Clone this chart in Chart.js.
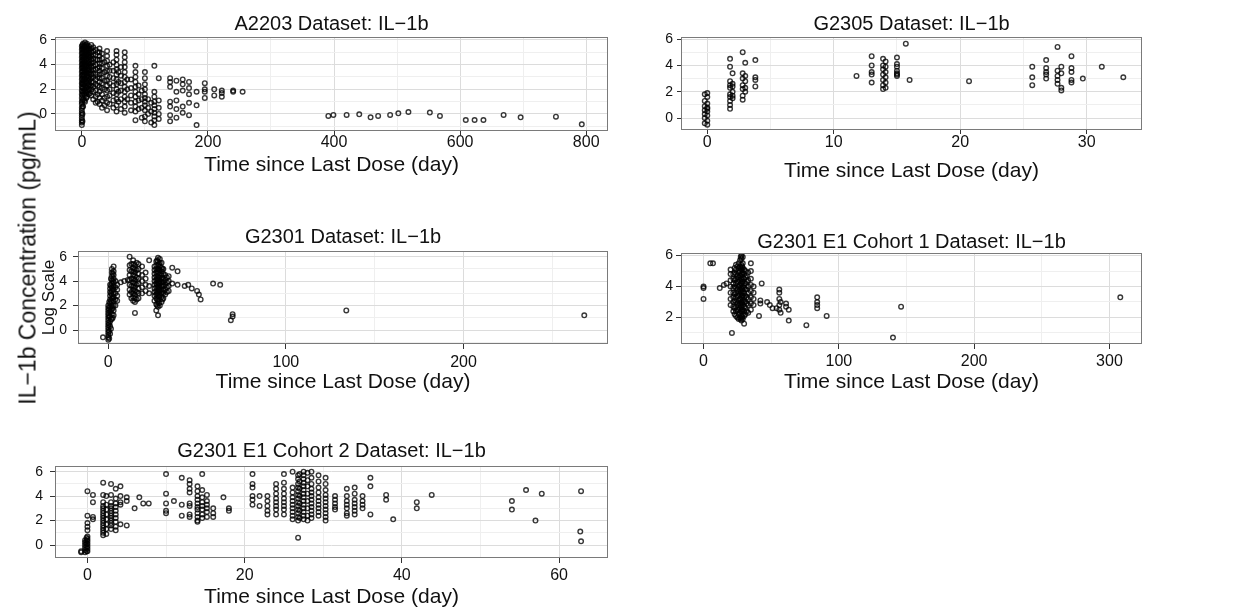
<!DOCTYPE html>
<html>
<head>
<meta charset="utf-8">
<script src="https://cdn.jsdelivr.net/npm/chart.js@4.4.1/dist/chart.umd.min.js"></script>
<style>
  body { margin: 0; background: #fff; }
  #wrap { position: relative; width: 1246px; height: 609px; overflow: hidden; }
  #wrap canvas { position: absolute; left: 0; top: 0; }
  #ylab {
    position: absolute; left: 28px; top: 258px;
    transform: translate(-50%, -50%) rotate(-90deg);
    white-space: nowrap; line-height: 1;
    font: 23px "Liberation Sans", Arial, sans-serif; color: #111;
  }
</style>
</head>
<body>
<div id="wrap">
  <canvas id="p1" width="1246" height="609"></canvas>
  <canvas id="p2" width="1246" height="609"></canvas>
  <canvas id="p3" width="1246" height="609"></canvas>
  <canvas id="p4" width="1246" height="609"></canvas>
  <canvas id="p5" width="1246" height="609"></canvas>
  <div id="ylab">IL−1b Concentration (pg/mL)</div>
</div>
<script>
'use strict';

// ─── Data: one entry per visit day, each with the log-concentrations seen there ───

// A2203
const a2203Days = [0, 2, 5, 8, 11, 15, 18, 22, 28, 32, 40, 44, 55, 58, 68, 72, 85, 90, 100, 105,
  115, 122, 140, 150, 160, 170, 182, 195, 210, 222, 240, 255,
  391, 399, 420, 440, 458, 470, 489, 502, 518, 552, 568, 609, 623, 637, 669, 696, 752, 793,
  1, 4, 7, 10, 13, 25, 36, 50, 62, 78, 95, 110];
const a2203Conc = [
  [-0.9, -0.7, -0.5, -0.3, -0.1, 0.1, 0.3, 0.5, 0.8, 1.0, 1.3, 1.6, 1.9, 2.2, 2.5, 2.8, 3.1, 3.4, 3.7, 4.0, 4.3, 4.6, 4.9, 5.2, 5.5],
  [0.6, 1.2, 1.7, 2.1, 2.4, 2.7, 3.0, 3.2, 3.5, 3.7, 3.9, 4.1, 4.3, 4.5, 4.7, 4.9, 5.1, 5.3, 5.5, 5.7],
  [1.0, 1.5, 1.9, 2.3, 2.6, 2.9, 3.2, 3.4, 3.6, 3.8, 4.0, 4.2, 4.4, 4.6, 4.8, 5.0, 5.2, 5.4, 5.6, 5.8],
  [1.4, 1.8, 2.2, 2.5, 2.8, 3.1, 3.3, 3.5, 3.8, 4.0, 4.3, 4.5, 4.7, 4.9, 5.1, 5.3, 5.5, 5.7],
  [1.6, 2.0, 2.4, 2.7, 3.0, 3.3, 3.6, 3.9, 4.2, 4.4, 4.6, 4.8, 5.0, 5.2, 5.5],
  [1.5, 2.0, 2.3, 2.6, 2.9, 3.2, 3.5, 3.8, 4.1, 4.4, 4.7, 5.0, 5.3, 5.6],
  [1.2, 1.8, 2.2, 2.6, 3.0, 3.3, 3.6, 3.9, 4.2, 4.5, 4.8, 5.1, 5.4],
  [0.9, 1.4, 1.9, 2.4, 2.8, 3.2, 3.6, 4.0, 4.4, 4.8, 5.2],
  [0.8, 1.3, 1.8, 2.2, 2.6, 2.9, 3.2, 3.5, 3.8, 4.1, 4.4, 4.7, 5.0, 5.3],
  [0.5, 1.1, 1.6, 2.1, 2.5, 2.9, 3.3, 3.7, 4.1, 4.5, 4.9],
  [0.3, 0.9, 1.4, 1.9, 2.3, 2.7, 3.1, 3.5, 3.9, 4.3, 4.7, 5.1],
  [0.8, 1.5, 2.0, 2.5, 3.0, 3.5, 4.0],
  [0.2, 0.7, 1.2, 1.6, 2.0, 2.4, 2.8, 3.2, 3.6, 4.0, 4.4, 4.8, 5.1],
  [1.0, 1.8, 2.6, 3.4],
  [0.1, 0.6, 1.0, 1.4, 1.8, 2.2, 2.6, 3.0, 3.4, 3.8, 4.2, 4.6, 5.0],
  [1.2, 2.0, 2.8],
  [-0.5, 0.2, 0.6, 1.0, 1.4, 1.8, 2.2, 2.6, 3.0, 3.4, 3.9],
  [0.4, 1.1, 1.6, 2.3],
  [-0.6, -0.2, 0.3, 0.7, 1.0, 1.3, 1.6, 2.0, 2.4, 2.9, 3.4],
  [0.0, 0.5, 1.2],
  [-0.9, -0.5, -0.2, 0.1, 0.4, 0.7, 1.0, 1.4, 1.8, 3.9],
  [-0.4, 0.0, 0.5, 1.1, 2.9],
  [-0.6, -0.1, 0.6, 1.0, 2.2, 2.6, 2.9],
  [-0.3, 0.4, 1.1, 1.8, 2.7],
  [0.1, 0.6, 1.9, 2.4, 2.8],
  [-0.1, 0.9, 1.6, 2.1, 2.6],
  [-0.9, 0.7, 1.8],
  [1.3, 1.8, 2.0, 2.5],
  [1.5, 2.0],
  [1.4, 1.7, 1.9],
  [1.8, 1.9],
  [1.8],
  [-0.16], [-0.08], [-0.08], [-0.03], [-0.27], [-0.16], [-0.08], [0.05], [0.16],
  [0.11], [-0.16], [-0.49], [-0.49], [-0.49], [-0.08], [-0.27], [-0.22], [-0.84],
  [-0.6, 0.0, 0.6, 1.1, 1.5, 1.8, 2.1, 2.4, 2.6, 2.9, 3.2, 3.5, 3.8, 4.1, 4.4, 4.7, 5.0, 5.3, 5.6],
  [1.1, 1.6, 2.0, 2.4, 2.8, 3.1, 3.5, 3.9, 4.3, 4.7, 5.1, 5.5],
  [1.3, 1.7, 2.1, 2.6, 3.0, 3.4, 3.9, 4.4, 4.8, 5.2, 5.6],
  [1.9, 2.3, 2.9, 3.5, 4.1, 4.7, 5.3],
  [1.7, 2.2, 2.8, 3.4, 4.0, 4.6, 5.2],
  [1.0, 1.6, 2.3, 3.0, 3.7, 4.4, 5.0],
  [0.7, 1.3, 2.0, 2.7, 3.4, 4.2],
  [0.5, 1.1, 1.7, 2.3, 2.9, 3.5, 4.2],
  [0.4, 1.2, 1.9, 2.5, 3.1, 3.8],
  [0.3, 0.9, 1.5, 2.1, 2.8],
  [-0.3, 0.5, 1.2, 1.9],
  [-0.7, 0.2, 0.9]
];

// G2305
const g2305Days = [-0.2, 0, 1.8, 2.0, 2.8, 3.0, 3.8, 11.8, 13.0, 13.9, 14.1, 15.0, 15.7, 16.0,
  20.7, 25.7, 26.8, 27.7, 28.0, 28.8, 29.7, 31.2, 32.9];
const g2305Conc = [
  [1.8, 1.3, 0.9, 0.6, 0.3, 0.0, -0.4],
  [1.9, 1.6, 1.1, 0.8, 0.7, 0.5, 0.2, -0.2, -0.5],
  [4.5, 3.9, 2.8, 2.5, 2.3, 1.8, 1.6, 1.3, 1.0, 0.7],
  [3.4, 2.6, 2.4, 2.0, 1.7, 1.5],
  [5.0, 3.4, 3.0, 2.5, 2.2, 1.7, 1.4],
  [4.2, 3.2, 2.8, 2.3, 2.0],
  [4.4, 3.1, 2.9, 2.4],
  [3.2],
  [4.7, 4.0, 3.5, 3.3, 2.7],
  [4.5, 4.0, 3.7, 3.3, 2.9, 2.5, 2.2],
  [4.3, 3.9, 3.5, 3.1, 2.7, 2.3],
  [4.6, 4.1, 3.9, 3.6, 3.4, 3.3, 3.2],
  [5.65],
  [2.9],
  [2.8],
  [3.9, 3.1, 2.5],
  [4.4, 3.8, 3.5, 3.3, 3.0],
  [5.4, 3.6, 3.2, 2.9, 2.6],
  [3.9, 3.4, 2.3, 2.1],
  [4.7, 3.8, 3.5, 2.9, 2.7],
  [3.0],
  [3.9],
  [3.1]
];

// G2301
const g2301Days = [-3, 0, 1, 2, 3, 4, 5, 7, 9, 11, 12, 14, 15, 17, 19, 21, 23, 26, 27, 28, 29, 30,
  31, 32, 34, 36, 39, 43, 45, 47, 50, 51, 52, 59, 63, 69, 70, 134, 268,
  0.5, 1.5, 2.5, 13, 16, 27.5, 28.5, 30.5, 33];
const g2301Conc = [
  [-0.6],
  [-0.8, -0.6, -0.4, -0.2, 0, 0.2, 0.4, 0.6, 0.8, 1.0, 1.2, 1.4, 1.6, 1.8, 2.0],
  [-0.3, 0.3, 0.7, 1.1, 1.5, 1.9, 2.2, 2.5, 2.8, 3.1, 3.4, 3.7],
  [0.9, 1.3, 1.7, 2.0, 2.3, 2.6, 2.9, 3.2, 3.5, 3.8, 4.1, 4.4, 4.7, 5.0],
  [1.2, 1.6, 2.0, 2.4, 2.7, 3.0, 3.3, 3.6, 3.9, 4.2, 4.5, 4.8, 5.2],
  [2.0, 2.5, 3.0, 3.5, 4.0],
  [2.4, 2.8, 3.3, 3.7],
  [3.9],
  [4.0],
  [4.1],
  [2.9, 3.3, 3.7, 4.1, 4.5, 4.9, 5.3, 6.0],
  [2.4, 2.7, 3.0, 3.3, 3.6, 3.9, 4.2, 4.5, 4.8, 5.1, 5.4, 5.7],
  [1.4, 2.3, 2.6, 2.9, 3.2, 3.5, 3.8, 4.1, 4.4, 4.7, 5.0, 5.3],
  [2.6, 3.0, 3.4, 3.8, 4.2, 4.6, 5.0, 5.4],
  [3.0, 3.5, 4.0, 4.5, 5.2],
  [3.2, 3.7, 4.2, 4.7],
  [3.0, 3.6, 5.7],
  [2.4, 2.8, 3.1, 3.4, 3.7, 4.0, 4.3, 4.6, 4.9, 5.2],
  [1.6, 2.1, 2.6, 2.9, 3.2, 3.5, 3.8, 4.1, 4.4, 4.7, 5.0, 5.3, 5.6],
  [1.2, 1.9, 2.4, 2.8, 3.1, 3.4, 3.6, 3.9, 4.1, 4.4, 4.7, 5.0, 5.3, 5.6, 5.9],
  [2.0, 2.5, 2.9, 3.2, 3.5, 3.8, 4.0, 4.3, 4.6, 4.9, 5.2, 5.5, 5.8],
  [2.3, 2.7, 3.0, 3.3, 3.6, 3.9, 4.2, 4.5, 4.8, 5.1, 5.5],
  [2.6, 3.0, 3.3, 3.6, 3.9, 4.2, 4.6, 5.0],
  [2.9, 3.3, 3.7, 4.1, 4.5],
  [3.2, 3.6, 4.0, 4.4],
  [5.1, 3.8],
  [4.8, 3.7],
  [3.6],
  [3.7],
  [3.4],
  [3.2],
  [2.9],
  [2.5],
  [3.8],
  [3.7],
  [0.8],
  [1.1, 1.3],
  [1.6],
  [1.2],
  [-0.7, -0.1, 0.5, 1.1, 1.7, 2.3],
  [0.1, 0.9, 1.6, 2.4, 3.0, 3.6, 4.2],
  [1.0, 1.8, 2.6, 3.4, 4.0, 4.6],
  [2.6, 3.1, 3.6, 4.2, 4.8, 5.4],
  [2.5, 3.1, 3.7, 4.3, 4.9, 5.5],
  [2.0, 2.5, 3.0, 3.7, 4.2, 4.8, 5.7],
  [2.2, 2.7, 3.3, 3.8, 4.3, 4.9, 5.4],
  [2.5, 3.1, 3.7, 4.3, 5.0],
  [3.1, 3.5, 3.9, 4.3]
];

// G2301 E1 Cohort 1
const cohort1Days = [0, 5, 7, 12, 15, 17, 20, 21, 22, 24, 26, 27, 28, 29, 30, 31, 33, 35, 37,
  41, 42, 43, 47, 49, 51, 54, 56, 57, 61, 63, 76, 84, 91, 140, 146, 308,
  23, 25, 27.5, 28.5, 32];
const cohort1Conc = [
  [4.0, 3.9, 3.2],
  [5.5],
  [5.5],
  [3.9],
  [4.1],
  [4.2],
  [2.8, 3.2, 3.6, 4.0, 4.4, 4.8, 5.1],
  [1.0],
  [2.4, 2.7, 3.0, 3.3, 3.6, 3.9, 4.2, 4.5, 4.8],
  [2.1, 2.4, 2.7, 3.0, 3.3, 3.6, 3.9, 4.2, 4.5, 4.8, 5.1, 5.4],
  [1.9, 2.2, 2.5, 2.8, 3.1, 3.4, 3.7, 4.0, 4.3, 4.6, 4.9, 5.2, 5.5],
  [2.0, 2.3, 2.6, 2.9, 3.2, 3.5, 3.8, 4.1, 4.4, 4.7, 5.0, 5.3, 5.7],
  [1.8, 2.1, 2.4, 2.7, 3.0, 3.3, 3.6, 3.9, 4.2, 4.5, 4.8, 5.1, 5.4, 5.8, 6.0],
  [1.9, 2.2, 2.5, 2.8, 3.1, 3.4, 3.7, 4.0, 4.3, 4.6, 4.9, 5.2, 5.5, 5.9],
  [1.6, 2.1, 2.4, 2.7, 3.0, 3.3, 3.6, 3.9, 4.2, 4.5, 4.8, 5.1],
  [2.2, 2.6, 3.0, 3.4, 3.8, 4.2, 4.6, 5.0],
  [2.3, 2.8, 3.2, 3.6, 4.0, 4.4, 4.9],
  [2.5, 2.9, 3.3, 3.7, 4.1, 4.5, 5.0, 5.5],
  [2.8, 3.2, 3.6, 4.0],
  [2.1],
  [3.1, 2.9],
  [4.2],
  [3.0],
  [2.8],
  [2.6],
  [2.6],
  [3.8, 3.6, 3.2, 2.8, 2.5],
  [3.0, 2.3],
  [2.9, 2.7],
  [2.5, 1.8],
  [1.5],
  [3.3, 3.0, 2.8, 2.6],
  [2.1],
  [0.7],
  [2.7],
  [3.3],
  [2.2, 2.6, 3.1, 3.5, 4.0, 4.4, 4.9, 5.2],
  [2.0, 2.5, 2.9, 3.4, 3.8, 4.3, 4.7, 5.3],
  [1.9, 2.4, 2.8, 3.2, 3.7, 4.2, 4.7, 5.2, 5.9],
  [2.0, 2.5, 2.9, 3.4, 3.8, 4.3, 4.8, 5.3],
  [2.4, 2.9, 3.3, 3.8, 4.3, 4.7]
];

// G2301 E1 Cohort 2
const cohort2Days = [-0.8, -0.3, 0, 0.7, 2, 3, 3.6, 4.2, 5, 6, 6.6, 7.1, 7.8, 10, 11, 12, 13, 14,
  14.6, 15.2, 16, 17.3, 18, 21, 21.9, 22.9, 24, 25, 26.1, 26.8, 27.5, 28.5, 29.4, 30.3, 31.5,
  33, 34, 35, 36, 38, 38.9, 41.9, 43.8, 54, 55.8, 57, 57.8, 62.7, 62.8,
  -0.1, 2.4, 27.0, 28.0];
const cohort2Conc = [
  [-0.6, -0.5],
  [-0.6, -0.4, -0.2, 0.0, 0.2, 0.4],
  [-0.5, -0.3, -0.1, 0.1, 0.3, 0.5, 0.7, 1.2, 1.5, 1.8, 2.4, 4.4],
  [4.1, 3.5, 2.3, 2.1],
  [5.1, 4.1, 3.5, 3.2, 3.0, 2.8, 2.6, 2.4, 2.2, 2.0, 1.8, 1.6, 1.4, 1.2, 1.0, 0.8],
  [5.0, 4.1, 3.5, 3.2, 3.0, 2.8, 2.6, 2.4, 2.2, 2.0, 1.8, 1.6, 1.3],
  [4.6, 3.8, 3.4, 3.1, 2.8, 2.5, 2.2, 1.9, 1.5, 1.2],
  [4.8, 4.0, 3.5, 3.3, 1.7],
  [3.9, 3.6, 1.6],
  [3.0],
  [3.9],
  [3.4],
  [3.4],
  [5.8, 4.2, 3.4, 2.8, 2.6],
  [3.6],
  [5.5, 3.3, 2.4],
  [5.3, 5.0, 4.6, 4.3, 3.4, 3.2, 2.5, 2.3],
  [4.8, 4.4, 4.0, 3.7, 3.4, 3.1, 2.9, 2.6, 2.3, 2.0, 1.9],
  [5.8, 4.5, 3.9, 3.5, 3.2, 2.9, 2.5, 2.2],
  [4.1, 3.6, 3.3, 3.0, 2.7, 2.3],
  [3.0, 2.6, 2.3],
  [3.9],
  [3.0, 2.8],
  [5.8, 5.0, 4.7, 4.0, 3.7, 3.3],
  [4.0, 3.2],
  [4.0, 3.6, 3.2, 2.8, 2.5],
  [5.0, 4.6, 4.2, 3.8, 3.5, 3.2, 2.9, 2.5],
  [5.8, 5.1, 4.6, 4.2, 3.8, 3.5, 3.2, 2.9, 2.5],
  [6.0, 4.7, 4.3, 3.9, 3.6, 3.3, 3.0, 2.7, 2.4, 2.1],
  [5.7, 5.4, 5.0, 4.7, 4.4, 4.1, 3.8, 3.5, 3.2, 2.9, 2.6, 2.3, 2.0, 0.6],
  [6.0, 5.7, 5.4, 5.1, 4.8, 4.5, 4.2, 3.9, 3.6, 3.3, 3.0, 2.7, 2.4, 2.1],
  [6.0, 5.5, 5.0, 4.6, 4.3, 4.0, 3.7, 3.4, 3.1, 2.8, 2.5, 2.2],
  [5.7, 5.2, 4.7, 4.3, 3.9, 3.6, 3.3, 3.0, 2.7, 2.4],
  [5.5, 5.0, 4.5, 4.1, 3.8, 3.5, 3.2, 2.9, 2.6, 2.3, 2.0],
  [4.0, 3.7, 3.4, 3.1, 2.9],
  [4.6, 4.0, 3.6, 3.3, 3.0, 2.6, 2.4],
  [4.7, 4.2, 3.7, 3.4, 3.1, 2.8, 2.5],
  [4.0, 3.6, 3.3, 3.0],
  [5.5, 4.8, 2.5],
  [4.1, 3.7],
  [2.1],
  [3.5, 3.0],
  [4.1],
  [3.6, 2.9],
  [4.5],
  [2.0],
  [4.2],
  [1.1],
  [4.4, 0.3],
  [-0.5, -0.2, 0.1, 0.4, 0.6],
  [4.0, 3.3, 2.9, 2.5, 2.1, 1.7, 1.3, 0.9],
  [5.8, 5.2, 4.6, 4.0, 3.4, 2.8, 2.2],
  [5.9, 5.3, 4.8, 4.2, 3.6, 3.0, 2.4, 2.0]
];

// Axis breaks (major = labelled, minor = light grid only)
const yMajor = [0, 2, 4, 6];
const yMinor = [-1, 1, 3, 5];

// ─── Layout of the five panels (page pixels) ───
const FONT = '"Liberation Sans", Arial, sans-serif';
const PAGE_W = 1246, PAGE_H = 609;
const Y_AXIS_W = 40;
const TITLE_SIZE = 20, XTITLE_SIZE = 21, XTICK_SIZE = 16, YTICK_SIZE = 14;

const PANELS = [
  { id: 'p1', title: 'A2203 Dataset: IL−1b', days: a2203Days, conc: a2203Conc,
    area: [56, 38, 607, 130], xRange: [-41, 833], yRange: [-1.3, 6.16],
    xMajor: [0, 200, 400, 600, 800], xMinor: [100, 300, 500, 700],
    titleY: 24, xTitleY: 165, tickLen: 5, xPad: 0, yPad: 4 },
  { id: 'p2', title: 'G2305 Dataset: IL−1b', days: g2305Days, conc: g2305Conc,
    area: [682, 38, 1141, 129], xRange: [-2.0, 34.3], yRange: [-0.83, 6.08],
    xMajor: [0, 10, 20, 30], xMinor: [5, 15, 25],
    titleY: 24, xTitleY: 171, tickLen: 5, xPad: 0.5, yPad: 4 },
  { id: 'p3', title: 'G2301 Dataset: IL−1b', days: g2301Days, conc: g2301Conc,
    area: [79, 252, 607, 343], xRange: [-16.5, 280.8], yRange: [-1.06, 6.38],
    xMajor: [0, 100, 200], xMinor: [50, 150, 250],
    titleY: 237.5, xTitleY: 382, tickLen: 6, xPad: 5.5, yPad: 6, yTitle: 'Log Scale' },
  { id: 'p4', title: 'G2301 E1 Cohort 1 Dataset: IL−1b', days: cohort1Days, conc: cohort1Conc,
    area: [682, 254, 1141, 343], xRange: [-15.9, 323.3], yRange: [0.35, 6.1],
    xMajor: [0, 100, 200, 300], xMinor: [50, 150, 250],
    titleY: 242.5, xTitleY: 382, tickLen: 6, xPad: 5, yPad: 3 },
  { id: 'p5', title: 'G2301 E1 Cohort 2 Dataset: IL−1b', days: cohort2Days, conc: cohort2Conc,
    area: [56, 467, 607, 557], xRange: [-4.0, 66.1], yRange: [-0.98, 6.38],
    xMajor: [0, 20, 40, 60], xMinor: [10, 30, 50],
    titleY: 451.7, xTitleY: 597, tickLen: 6, xPad: 5, yPad: 7 },
];

// Grey frame round each panel, drawn on top like ggplot's theme_bw
const panelBorder = {
  id: 'panelBorder',
  afterDraw(chart) {
    const { ctx, chartArea: a } = chart;
    ctx.save();
    ctx.strokeStyle = '#7a7a7a';
    ctx.lineWidth = 1;
    ctx.strokeRect(Math.round(a.left) - 0.5, Math.round(a.top) - 0.5,
      Math.round(a.right - a.left) + 1, Math.round(a.bottom - a.top) + 1);
    ctx.restore();
  },
};

function breaks(major, minor, min, max) {
  return major.concat(minor).filter(v => v >= min && v <= max).sort((a, b) => a - b);
}

function axisStyle(major, min, max, minorList, size, tickLen, pad) {
  return {
    type: 'linear',
    min, max,
    afterBuildTicks: s => { s.ticks = breaks(major, minorList, min, max).map(v => ({ value: v })); },
    border: { display: false },
    grid: {
      color: c => major.includes(c.tick.value) ? '#dcdcdc' : '#efefef',
      tickColor: c => major.includes(c.tick.value) ? '#333' : 'rgba(0,0,0,0)',
      tickLength: tickLen,
      lineWidth: 1,
    },
    ticks: {
      autoSkip: false, maxRotation: 0, padding: pad,
      color: '#111',
      font: { family: FONT, size, lineHeight: 1 },
      callback: v => major.includes(v) ? String(v) : '',
    },
  };
}

function renderPanel(p) {
  const [L, T, R, B] = p.area;
  const xAxisH = p.xTitleY - B + XTITLE_SIZE / 2;

  const points = [];
  p.days.forEach((d, i) => p.conc[i].forEach(v => points.push({ x: d, y: v })));

  const x = axisStyle(p.xMajor, p.xRange[0], p.xRange[1], p.xMinor, XTICK_SIZE, p.tickLen, p.xPad);
  x.afterFit = s => { s.height = xAxisH; };
  x.title = {
    display: true, text: 'Time since Last Dose (day)', color: '#111',
    font: { family: FONT, size: XTITLE_SIZE, lineHeight: 1 },
    padding: { top: 0, bottom: 0 },
  };

  const y = axisStyle(yMajor, p.yRange[0], p.yRange[1], yMinor, YTICK_SIZE, p.tickLen, p.yPad);
  y.afterFit = s => { s.width = Y_AXIS_W; };
  if (p.yTitle) {
    y.title = {
      display: true, text: p.yTitle, color: '#111',
      font: { family: FONT, size: 17, lineHeight: 1 },
      padding: { top: 1.5, bottom: 0 },
    };
  }

  new Chart(document.getElementById(p.id), {
    type: 'scatter',
    data: {
      datasets: [{
        data: points,
        pointStyle: 'circle',
        radius: 2.3,
        borderWidth: 1.4,
        borderColor: 'rgba(0,0,0,0.78)',
        backgroundColor: 'rgba(0,0,0,0)',
      }],
    },
    options: {
      responsive: false,
      animation: false,
      devicePixelRatio: 1,
      events: [],
      layout: {
        padding: {
          left: L - Y_AXIS_W,
          top: p.titleY - TITLE_SIZE / 2,
          right: PAGE_W - R,
          bottom: PAGE_H - B - xAxisH,
        },
      },
      plugins: {
        legend: { display: false },
        tooltip: { enabled: false },
        title: {
          display: true, text: p.title, fullSize: false, color: '#111',
          font: { family: FONT, size: TITLE_SIZE, weight: 'normal', lineHeight: 1 },
          padding: { top: 0, bottom: T - p.titleY - TITLE_SIZE / 2 },
        },
      },
      scales: { x, y },
    },
    plugins: [panelBorder],
  });
}

PANELS.forEach(renderPanel);
</script>
</body>
</html>
